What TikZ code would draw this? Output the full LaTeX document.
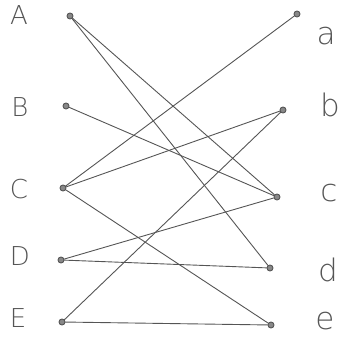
\documentclass[tikz,border=0pt]{standalone}
\usepackage{fontspec}
\setsansfont{DejaVu Sans}
\definecolor{pencil}{HTML}{555555}
\tikzset{
  vtx/.style={circle,draw=pencil,fill=pencil!70,line width=0.9pt,inner sep=0pt,minimum size=6pt},
  lbl/.style={text=pencil,font=\fontsize{26}{26}\selectfont\fontspec{DejaVu Sans ExtraLight}},
  lbs/.style={lbl,font=\fontsize{31}{31}\selectfont\fontspec{DejaVu Sans ExtraLight}},
  wire/.style={draw=pencil,line width=0.9pt}
}
\begin{document}
\begin{tikzpicture}[x=1pt,y=-1pt,line join=round,line cap=round]
  \useasboundingbox (0,0) rectangle (341,340);
  % left side
  \node[vtx] (A) at (70,16) {};
  \node[vtx] (B) at (66,106) {};
  \node[vtx] (C) at (63,188) {};
  \node[vtx] (D) at (61,260) {};
  \node[vtx] (E) at (62,322) {};
  % right side
  \node[vtx] (a) at (297,14) {};
  \node[vtx] (b) at (283,110) {};
  \node[vtx] (c) at (277,197) {};
  \node[vtx] (d) at (270,268) {};
  \node[vtx] (e) at (271,325) {};
  % labels
  \node[lbl] (lA) at (19,15) {A};
  \node[lbl] (lB) at (20,107) {B};
  \node[lbl] (lC) at (19,189) {C};
  \node[lbl] (lD) at (20,256) {D};
  \node[lbl] (lE) at (18,318) {E};
  \node[lbs] (la) at (326,36) {a};
  \node[lbs] (lb) at (330,105) {b};
  \node[lbs] (lc) at (329,193) {c};
  \node[lbs] (ld) at (328,270) {d};
  \node[lbs] (le) at (325,321) {e};
  % edges
  \foreach \u/\v in {A/c,A/d,B/c,C/a,C/b,C/e,D/c,D/d,E/b,E/e}
    \draw[wire] (\u) -- (\v);
\end{tikzpicture}
\end{document}
